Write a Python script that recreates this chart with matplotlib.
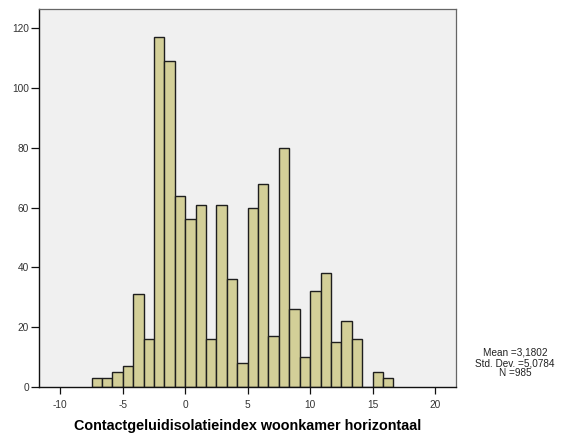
import matplotlib.pyplot as plt
import numpy as np

# histogram bins (width 5/6) and counts
bin_width = 5 / 6
first_edge = -7.5
counts = [3, 3, 5, 7, 31, 16, 117, 109, 64, 56, 61, 16, 61, 36, 8,
          60, 68, 17, 80, 26, 10, 32, 38, 15, 22, 16, 0, 5, 3]
x_ticks = [-10, -5, 0, 5, 10, 15, 20]
y_ticks = [0, 20, 40, 60, 80, 100, 120]
stats_text = "Mean =3,1802\nStd. Dev. =5,0784\nN =985"
x_label = "Contactgeluidisolatieindex woonkamer horizontaal"

edges = first_edge + bin_width * np.arange(len(counts) + 1)

plt.rcParams['font.family'] = ['Liberation Sans', 'DejaVu Sans']
plt.rcParams['axes.unicode_minus'] = False

fig = plt.figure(figsize=(5.79, 4.38), dpi=100)
ax = fig.add_axes([0.068, 0.116, 0.7195, 0.8635])
ax.set_facecolor('#f0f0f0')

ax.bar(edges[:-1], counts, width=bin_width, align='edge',
       color='#d3cf98', edgecolor='#1e1e1e', linewidth=1.0)

ax.set_xlim(-11.68, 21.68)
ax.set_ylim(0, 126.3)
ax.set_xticks(x_ticks)
ax.set_yticks(y_ticks)
ax.tick_params(direction='out', width=0.9, labelsize=7.3, labelcolor='#333333', color='#111111')
ax.tick_params(axis='y', length=6, pad=1.5)
ax.tick_params(axis='x', length=5, pad=4)

for side in ['top', 'right']:
    ax.spines[side].set_color('#666666')
    ax.spines[side].set_linewidth(0.9)
for side in ['left', 'bottom']:
    ax.spines[side].set_color('#111111')
    ax.spines[side].set_linewidth(1.0)

ax.set_xlabel(x_label, fontsize=10.4, fontweight='bold', labelpad=7)

fig.text(515 / 579, 1 - 363 / 438, stats_text, ha='center', va='center',
         fontsize=7.2, linespacing=1.05, color='#222222')

fig.savefig('out.png', dpi=100)
